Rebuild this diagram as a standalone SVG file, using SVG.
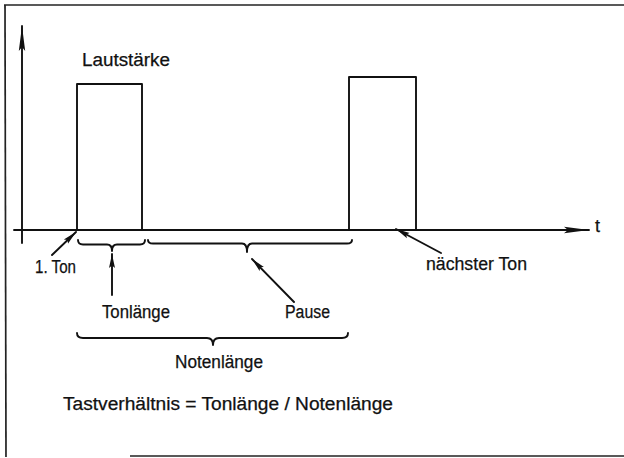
<svg xmlns="http://www.w3.org/2000/svg" width="624" height="458" viewBox="0 0 624 458">
  <style>
    .ln { fill: none; stroke: #111; stroke-width: 1.9; stroke-linecap: round; stroke-linejoin: round; }
    .frame { fill: none; stroke: #222; stroke-width: 1.7; }
    .lbl { font-family: "Liberation Sans", "DejaVu Sans", sans-serif; font-size: 18px; fill: #111; stroke: #111; stroke-width: 0.25; }
  </style>
  <defs>
    <marker id="head" markerUnits="userSpaceOnUse" markerWidth="16" markerHeight="10" refX="14" refY="5" orient="auto">
      <path d="M0,2 L14,5 L0,8 L2.5,5 Z" fill="#111"/>
    </marker>
    <marker id="axishead" markerUnits="userSpaceOnUse" markerWidth="28" markerHeight="10" refX="25" refY="5" orient="auto">
      <path d="M0,1.8 L25,5 L0,8.2 L4,5 Z" fill="#111"/>
    </marker>
  </defs>

  <!-- outer frame (open on the right) -->
  <g id="frame">
    <path class="frame" d="M4,5 H624"/>
    <path class="frame" d="M5,5 L6,457"/>
    <path class="frame" d="M130,456 H624" stroke="#444"/>
  </g>

  <!-- axes, tone pulses, braces and pointers -->
  <g id="connectors">
    <line class="ln" x1="22" y1="243" x2="22" y2="26" marker-end="url(#axishead)"/>
    <line class="ln" x1="14" y1="230" x2="589" y2="230" marker-end="url(#axishead)"/>

    <path class="ln" d="M77,230 V84 H142 V230"/>
    <path class="ln" d="M349,230 V77 H416 V230"/>

    <!-- braces -->
    <path class="ln" d="M78,240 Q78,244.5 83,244.5 L107,244.5 Q112,244.5 112,251 Q112,244.5 117,244.5 L140,244.5 Q145,244.5 145,240"/>
    <path class="ln" d="M148,240 Q148,243.5 153,243.5 L242,243.5 Q247,243.5 247,252 Q247,243.5 252,243.5 L347,243.5 Q352,243.5 352,240"/>
    <path class="ln" d="M77,333 Q77,338 83,338 L207,338 Q213,338 213,345 Q213,338 219,338 L342,338 Q348,338 348,333"/>

    <!-- pointer arrows -->
    <line class="ln" x1="52" y1="255" x2="76" y2="232" marker-end="url(#head)"/>
    <line class="ln" x1="112" y1="295" x2="112" y2="254" marker-end="url(#head)"/>
    <line class="ln" x1="294" y1="302" x2="252" y2="259" marker-end="url(#head)"/>
    <line class="ln" x1="441" y1="253" x2="396" y2="229" marker-end="url(#head)"/>
  </g>

  <!-- labels -->
  <g id="lautstaerke"><text class="lbl" x="82" y="66" textLength="88" lengthAdjust="spacingAndGlyphs">Lautstärke</text></g>
  <g id="t-axis"><text class="lbl" x="595" y="232">t</text></g>
  <g id="erster-ton"><text class="lbl" x="35" y="273" textLength="41" lengthAdjust="spacingAndGlyphs">1. Ton</text></g>
  <g id="naechster-ton"><text class="lbl" x="426" y="270" textLength="101" lengthAdjust="spacingAndGlyphs">nächster Ton</text></g>
  <g id="tonlaenge"><text class="lbl" x="102" y="318" textLength="68" lengthAdjust="spacingAndGlyphs">Tonlänge</text></g>
  <g id="pause"><text class="lbl" x="285" y="318" textLength="45" lengthAdjust="spacingAndGlyphs">Pause</text></g>
  <g id="notenlaenge"><text class="lbl" x="175" y="368" textLength="88" lengthAdjust="spacingAndGlyphs">Notenlänge</text></g>
  <g id="tastverhaeltnis"><text class="lbl" x="63" y="410" textLength="330" lengthAdjust="spacingAndGlyphs">Tastverhältnis = Tonlänge / Notenlänge</text></g>
</svg>
